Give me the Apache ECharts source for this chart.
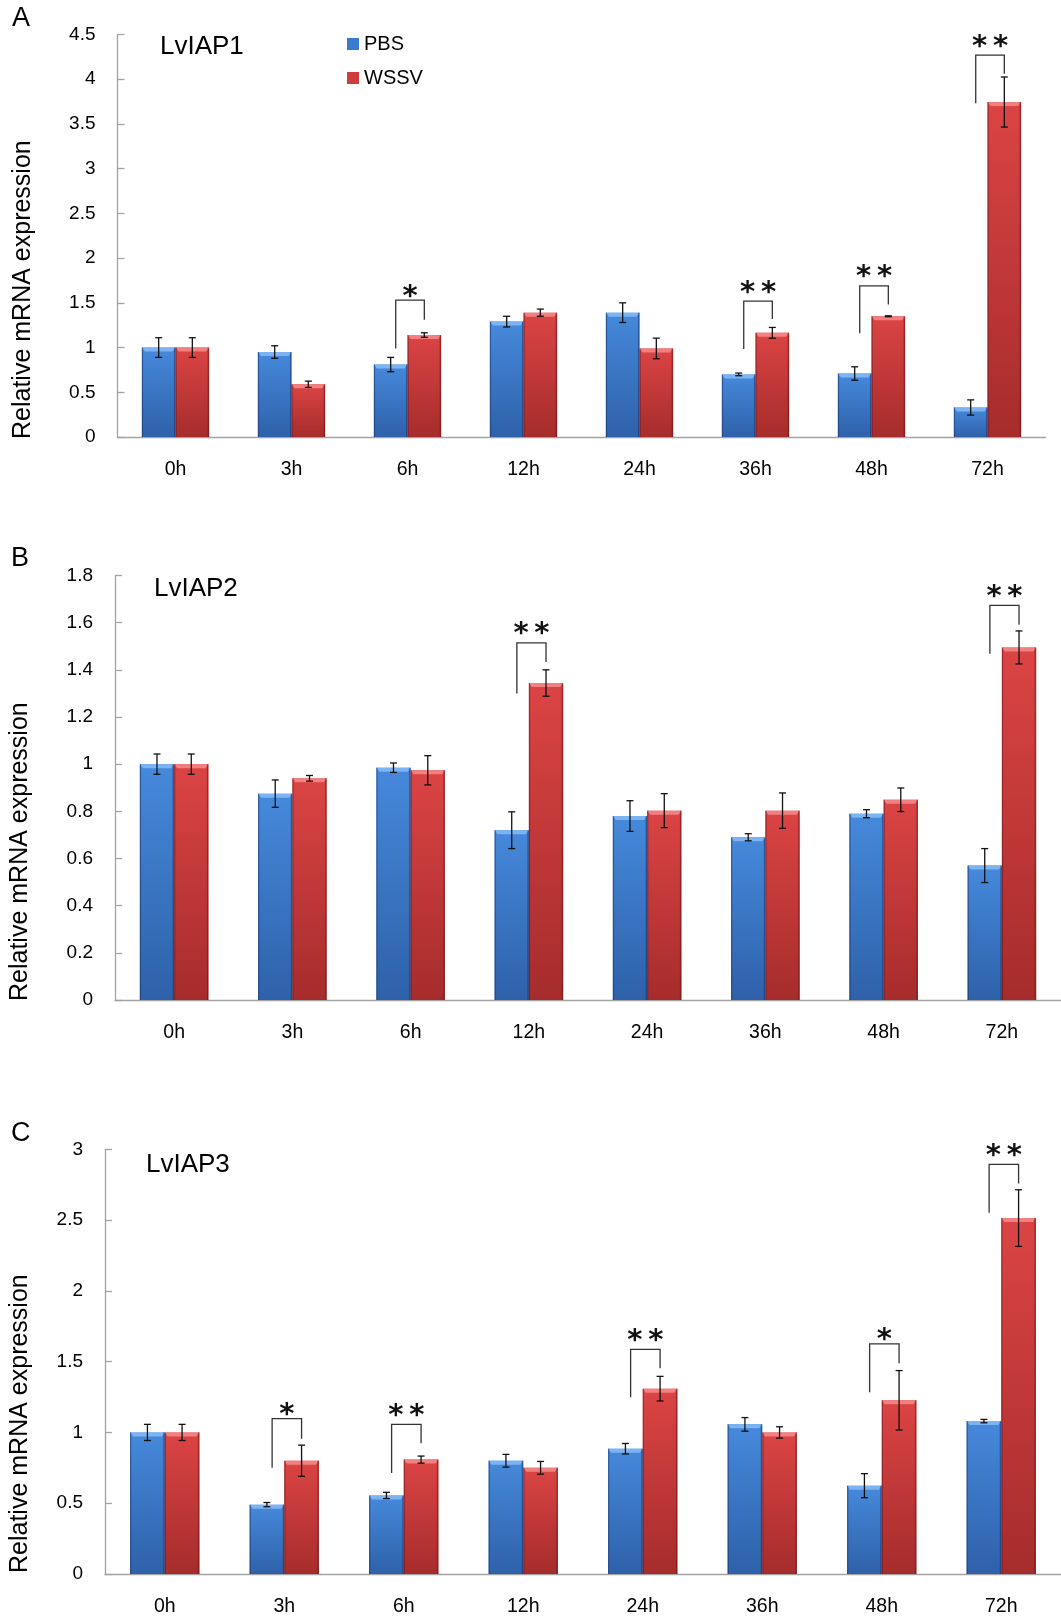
<!DOCTYPE html>
<html>
<head>
<meta charset="utf-8">
<script src="https://cdn.jsdelivr.net/npm/echarts@6/dist/echarts.min.js"></script>
<style>
html,body{margin:0;padding:0;background:#fff;}
#chart{width:1061px;height:1618px;}
</style>
</head>
<body>
<div id="chart"></div>
<script>
// ---------- data ----------
var categories = ['0h','3h','6h','12h','24h','36h','48h','72h'];
var seriesNames = ['PBS','WSSV'];

// Panel A: LvIAP1
var pbsA     = [1.00, 0.95, 0.81, 1.29, 1.39, 0.70, 0.71, 0.33];
var pbsErrA  = [0.11, 0.07, 0.08, 0.06, 0.11, 0.015, 0.075, 0.085];
var wssvA    = [1.00, 0.59, 1.14, 1.39, 0.99, 1.165, 1.35, 3.745];
var wssvErrA = [0.11, 0.035, 0.025, 0.04, 0.115, 0.06, 0.005, 0.28];
var brCatA   = [2, 5, 6, 7];
var brLeftA  = [0.99, 0.985, 1.16, 3.73];
var brTopA   = [1.53, 1.52, 1.69, 4.27];
var brRightA = [1.31, 1.32, 1.48, 4.06];
var brMarkA  = ['*', '**', '**', '**'];
var yTicksA  = {min: 0, max: 4.5, interval: 0.5};

// Panel B: LvIAP2
var pbsB     = [1.00, 0.875, 0.985, 0.72, 0.78, 0.69, 0.79, 0.57];
var pbsErrB  = [0.043, 0.058, 0.02, 0.078, 0.065, 0.015, 0.017, 0.072];
var wssvB    = [1.00, 0.94, 0.974, 1.344, 0.803, 0.803, 0.849, 1.495];
var wssvErrB = [0.043, 0.012, 0.062, 0.056, 0.072, 0.075, 0.05, 0.07];
var brCatB   = [3, 7];
var brLeftB  = [1.30, 1.468];
var brTopB   = [1.514, 1.673];
var brRightB = [1.433, 1.591];
var brMarkB  = ['**', '**'];
var yTicksB  = {min: 0, max: 1.8, interval: 0.2};

// Panel C: LvIAP3
var pbsC     = [1.00, 0.49, 0.555, 0.80, 0.885, 1.057, 0.624, 1.08];
var pbsErrC  = [0.057, 0.015, 0.022, 0.045, 0.037, 0.048, 0.085, 0.012];
var wssvC    = [1.00, 0.80, 0.808, 0.75, 1.309, 1.00, 1.227, 2.514];
var wssvErrC = [0.057, 0.11, 0.025, 0.045, 0.087, 0.04, 0.21, 0.20];
var brCatC   = [1, 2, 4, 6, 7];
var brLeftC  = [0.751, 0.713, 1.248, 1.283, 2.552];
var brTopC   = [1.097, 1.057, 1.587, 1.626, 2.893];
var brRightC = [0.956, 0.923, 1.453, 1.488, 2.759];
var brMarkC  = ['*', '**', '**', '*', '**'];
var yTicksC  = {min: 0, max: 3, interval: 0.5};

var geneNames = ['LvIAP1', 'LvIAP2', 'LvIAP3'];
var panelLetters = ['A', 'B', 'C'];
var yAxisTitle = 'Relative mRNA expression';

// ---------- styles / layout ----------
var FONT = "'Liberation Sans', Arial, sans-serif";
var GAP = 0.42;
var AXIS_COLOR = '#a3a3a3';
var grids = [
  {left: 117.5, top: 34.5, width: 928, height: 402.5},
  {left: 115, top: 575.5, width: 948, height: 424.5},
  {left: 105, top: 1149.3, width: 964, height: 424.7}
];
var blueGrad = new echarts.graphic.LinearGradient(0, 0, 0, 1, [
  {offset: 0, color: '#4689db'}, {offset: 1, color: '#2e61a9'}]);
var redGrad = new echarts.graphic.LinearGradient(0, 0, 0, 1, [
  {offset: 0, color: '#db4444'}, {offset: 1, color: '#a62c2c'}]);
var bevelColors = ['#7cb3f2', '#f28080'];
var edgeColors = ['rgba(20,50,110,0.55)', 'rgba(110,20,20,0.55)'];

function errRenderer(side, errArr) {
  return function (params, api) {
    var i = api.value(0), v = api.value(1), e = errArr[params.dataIndex];
    var band = api.size([1, 0])[0];
    var bw = band * (1 - GAP) / 2;
    var cx = api.coord([i, 0])[0] + side * bw / 2;
    var yTop = api.coord([i, v])[1];
    var yBot = api.coord([i, 0])[1];
    var yHi = api.coord([i, v + e])[1], yLo = api.coord([i, v - e])[1];
    var x0 = cx - bw / 2, x1 = cx + bw / 2;
    var si = side < 0 ? 0 : 1;
    return {
      type: 'group',
      children: [
        {type: 'polygon', shape: {points: [[x0, yTop], [x1, yTop], [x1 - 3, yTop + 4], [x0 + 3, yTop + 4]]},
         style: {fill: bevelColors[si]}},
        {type: 'rect', shape: {x: x0, y: yTop, width: 1.2, height: yBot - yTop}, style: {fill: edgeColors[si]}},
        {type: 'rect', shape: {x: x1 - 1.5, y: yTop, width: 1.5, height: yBot - yTop}, style: {fill: edgeColors[si]}},
        {type: 'line', shape: {x1: cx, y1: yHi, x2: cx, y2: yLo}, style: {stroke: '#111', lineWidth: 1.3}},
        {type: 'line', shape: {x1: cx - 3.5, y1: yHi, x2: cx + 3.5, y2: yHi}, style: {stroke: '#111', lineWidth: 1.3}},
        {type: 'line', shape: {x1: cx - 3.5, y1: yLo, x2: cx + 3.5, y2: yLo}, style: {stroke: '#111', lineWidth: 1.3}}
      ]
    };
  };
}

function bracketRenderer(marks) {
  return function (params, api) {
    var i = api.value(0), lo = api.value(1), top = api.value(2), ro = api.value(3);
    var band = api.size([1, 0])[0];
    var bw = band * (1 - GAP) / 2;
    var cx = api.coord([i, 0])[0];
    var xl = cx - bw / 2 + bw * 0.15, xr = cx + bw / 2;
    var yl = api.coord([i, lo])[1], yt = api.coord([i, top])[1], yr = api.coord([i, ro])[1];
    var m = marks[params.dataIndex];
    var txt = m.split('').join('\u2009');
    var lift = m.length > 1 ? 8 : 3;
    return {
      type: 'group',
      children: [
        {type: 'polyline', shape: {points: [[xl, yl], [xl, yt], [xr, yt], [xr, yr]]},
         style: {stroke: '#333', lineWidth: 1.3, fill: null}},
        {type: 'text', x: (xl + xr) / 2, y: yt - lift,
         style: {text: txt, fontSize: 29, fontWeight: 'bold',
                 fontFamily: "'DejaVu Sans', sans-serif",
                 fill: '#111', align: 'center', verticalAlign: 'middle'}}
      ]
    };
  };
}

var panels = [
  {pbs: pbsA, pbsErr: pbsErrA, wssv: wssvA, wssvErr: wssvErrA, bc: brCatA, bl: brLeftA, bt: brTopA, br: brRightA, bm: brMarkA, yt: yTicksA},
  {pbs: pbsB, pbsErr: pbsErrB, wssv: wssvB, wssvErr: wssvErrB, bc: brCatB, bl: brLeftB, bt: brTopB, br: brRightB, bm: brMarkB, yt: yTicksB},
  {pbs: pbsC, pbsErr: pbsErrC, wssv: wssvC, wssvErr: wssvErrC, bc: brCatC, bl: brLeftC, bt: brTopC, br: brRightC, bm: brMarkC, yt: yTicksC}
];

var xAxes = [], yAxes = [], series = [];
panels.forEach(function (p, k) {
  xAxes.push({
    gridIndex: k, type: 'category', data: categories,
    axisLine: {lineStyle: {color: AXIS_COLOR, width: 1.3}},
    axisTick: {inside: true, length: 6, lineStyle: {color: AXIS_COLOR, width: 1.3}},
    axisLabel: {color: '#000', fontSize: 19.5, fontFamily: FONT, margin: 23}
  });
  yAxes.push({
    gridIndex: k, type: 'value', min: p.yt.min, max: p.yt.max, interval: p.yt.interval,
    axisLine: {show: true, lineStyle: {color: AXIS_COLOR, width: 1.3}},
    axisTick: {show: true, inside: true, length: 7, lineStyle: {color: AXIS_COLOR, width: 1.3}},
    axisLabel: {color: '#000', fontSize: 19, fontFamily: FONT, margin: 22},
    splitLine: {show: false}
  });
  series.push({
    name: seriesNames[0], type: 'bar', xAxisIndex: k, yAxisIndex: k, data: p.pbs,
    barGap: '0%', barCategoryGap: (GAP * 100) + '%',
    itemStyle: {color: blueGrad}, emphasis: {disabled: true}
  });
  series.push({
    name: seriesNames[1], type: 'bar', xAxisIndex: k, yAxisIndex: k, data: p.wssv,
    barGap: '0%', barCategoryGap: (GAP * 100) + '%',
    itemStyle: {color: redGrad}, emphasis: {disabled: true}
  });
  series.push({
    type: 'custom', xAxisIndex: k, yAxisIndex: k, silent: true, z: 5,
    data: p.pbs.map(function (v, i) { return [i, v]; }),
    renderItem: errRenderer(-1, p.pbsErr)
  });
  series.push({
    type: 'custom', xAxisIndex: k, yAxisIndex: k, silent: true, z: 5,
    data: p.wssv.map(function (v, i) { return [i, v]; }),
    renderItem: errRenderer(1, p.wssvErr)
  });
  series.push({
    type: 'custom', xAxisIndex: k, yAxisIndex: k, silent: true, z: 6,
    data: p.bc.map(function (c, i) { return [c, p.bl[i], p.bt[i], p.br[i]]; }),
    renderItem: bracketRenderer(p.bm)
  });
});

var letterPos = [[12, 19], [11, 559], [11, 1134]];
var genePos = [[160, 47], [154, 589], [146, 1165]];
var yTitlePos = [[23, 439], [20, 1001], [20, 1573]];
var graphics = [];
for (var k = 0; k < 3; k++) {
  graphics.push({type: 'text', x: letterPos[k][0], y: letterPos[k][1],
    style: {text: panelLetters[k], fontSize: 27, fontFamily: FONT, fill: '#000', align: 'left', verticalAlign: 'middle'}});
  graphics.push({type: 'text', x: genePos[k][0], y: genePos[k][1],
    style: {text: geneNames[k], fontSize: 26, fontFamily: FONT, fill: '#000', align: 'left', verticalAlign: 'middle'}});
  graphics.push({type: 'text', x: yTitlePos[k][0], y: yTitlePos[k][1], rotation: Math.PI / 2,
    style: {text: yAxisTitle, fontSize: 25, fontFamily: FONT, fill: '#000', align: 'left', verticalAlign: 'middle'}});
}

var chart = echarts.init(document.getElementById('chart'), null, {renderer: 'canvas'});
chart.setOption({
  backgroundColor: '#fff',
  animation: false,
  legend: {
    orient: 'vertical', left: 342, top: 29, itemGap: 14, itemWidth: 12, itemHeight: 12,
    icon: 'rect', selectedMode: false,
    textStyle: {fontSize: 20, fontFamily: FONT, color: '#000'},
    data: [
      {name: seriesNames[0], itemStyle: {color: '#3b7bcf'}},
      {name: seriesNames[1], itemStyle: {color: '#cf3c3c'}}
    ]
  },
  grid: grids,
  xAxis: xAxes,
  yAxis: yAxes,
  series: series,
  graphic: graphics
});
</script>
</body>
</html>
